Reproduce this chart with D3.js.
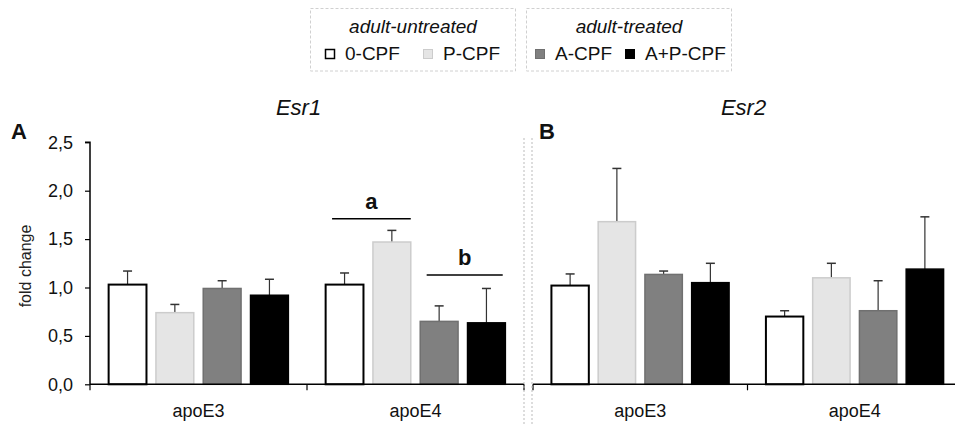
<!DOCTYPE html>
<html><head><meta charset="utf-8">
<script src="https://cdn.jsdelivr.net/npm/d3@7"></script>
<style>body{margin:0;background:#fff}svg{display:block;font-family:Arial,"Liberation Sans",sans-serif}</style>
</head><body>
<svg id="c" width="955" height="426"></svg>
<script>
const groups = ["apoE3", "apoE4"];
const series = ["0-CPF", "P-CPF", "A-CPF", "A+P-CPF"];
const yTicks = [0, 0.5, 1.0, 1.5, 2.0, 2.5];
const esr1Mean = [[1.03, 0.74, 0.99, 0.92], [1.03, 1.47, 0.65, 0.635]];
const esr1Err  = [[0.14, 0.085, 0.08, 0.165], [0.12, 0.12, 0.16, 0.355]];
const esr2Mean = [[1.02, 1.68, 1.135, 1.05], [0.70, 1.10, 0.76, 1.19]];
const esr2Err  = [[0.12, 0.55, 0.035, 0.20], [0.06, 0.15, 0.31, 0.54]];
const esr1Sig = [{group: "apoE4", from: "0-CPF", to: "P-CPF", y: 1.71, label: "a"},
                 {group: "apoE4", from: "A-CPF", to: "A+P-CPF", y: 1.13, label: "b"}];
const legendGroups = [{title: "adult-untreated", items: ["0-CPF", "P-CPF"]},
                      {title: "adult-treated", items: ["A-CPF", "A+P-CPF"]}];

const fills = {"0-CPF": "#ffffff", "P-CPF": "#e5e5e5", "A-CPF": "#808080", "A+P-CPF": "#000000"};
const strokes = {"0-CPF": "#000000", "P-CPF": "#cccccc", "A-CPF": "#707070", "A+P-CPF": "#000000"};
const strokeW = {"0-CPF": 2, "P-CPF": 1.5, "A-CPF": 1.5, "A+P-CPF": 1.5};

const svg = d3.select("#c");
const y = d3.scaleLinear().domain([0, 2.5]).range([384.3, 142.3]);

function panel(x0range, mean, err, title, titleX, letter, letterX, showY, sig) {
  const g = svg.append("g");
  const x0 = d3.scaleBand().domain(groups).range(x0range);
  const x1 = d3.scaleBand().domain(series).range([0, x0.bandwidth()]).paddingInner(0.2).paddingOuter(0.394);
  const data = [];
  groups.forEach((gr, gi) => series.forEach((s, si) => data.push({gr, s, v: mean[gi][si], e: err[gi][si]})));

  // error bars
  const eb = g.selectAll(".eb").data(data).join("g");
  eb.append("line")
    .attr("x1", d => x0(d.gr) + x1(d.s) + x1.bandwidth() / 2)
    .attr("x2", d => x0(d.gr) + x1(d.s) + x1.bandwidth() / 2)
    .attr("y1", d => y(d.v)).attr("y2", d => y(d.v + d.e))
    .attr("stroke", "#333").attr("stroke-width", 1.2);
  eb.append("line")
    .attr("x1", d => x0(d.gr) + x1(d.s) + x1.bandwidth() / 2 - 4.5)
    .attr("x2", d => x0(d.gr) + x1(d.s) + x1.bandwidth() / 2 + 4.5)
    .attr("y1", d => y(d.v + d.e)).attr("y2", d => y(d.v + d.e))
    .attr("stroke", "#333").attr("stroke-width", 1.5);

  // bars
  g.selectAll(".bar").data(data).join("rect")
    .attr("x", d => x0(d.gr) + x1(d.s))
    .attr("width", x1.bandwidth())
    .attr("y", d => y(d.v))
    .attr("height", d => y(0) - y(d.v))
    .attr("fill", d => fills[d.s]).attr("stroke", d => strokes[d.s])
    .attr("stroke-width", d => strokeW[d.s]);

  // x axis
  const ax = g.append("g");
  ax.append("line").attr("x1", x0range[0]).attr("x2", x0range[1])
    .attr("y1", y(0)).attr("y2", y(0)).attr("stroke", "#000").attr("stroke-width", 1.5);
  const bounds = groups.map(gr => x0(gr)).concat([x0range[1]]);
  ax.selectAll(".tk").data(bounds).join("line")
    .attr("x1", d => d).attr("x2", d => d).attr("y1", y(0)).attr("y2", y(0) + 6)
    .attr("stroke", "#000").attr("stroke-width", 1.2);
  ax.selectAll(".tl").data(groups).join("text")
    .attr("x", d => x0(d) + x0.bandwidth() / 2).attr("y", 417)
    .attr("text-anchor", "middle").attr("font-size", 18).attr("fill", "#111").text(d => d);

  if (showY) {
    const yA = g.append("g").attr("transform", `translate(${x0range[0]},0)`)
      .call(d3.axisLeft(y).tickValues(yTicks).tickSize(5).tickPadding(12)
        .tickFormat(d => d3.format(".1f")(d).replace(".", ",")));
    yA.select(".domain").attr("stroke-width", 1.5).attr("d", `M-5,${y(2.5)}H0V${y(0)}`);
    yA.selectAll(".tick line").attr("stroke-width", 1.2);
    yA.selectAll("text").attr("font-size", 18).attr("font-family", "Arial, 'Liberation Sans', sans-serif").attr("fill", "#111");
    g.append("text").attr("transform", `translate(31,266) rotate(-90)`)
      .attr("text-anchor", "middle").attr("font-size", 16).attr("fill", "#222").text("fold change");
  }

  g.append("text").attr("x", titleX).attr("y", 115).attr("text-anchor", "middle")
    .attr("font-size", 22).attr("font-style", "italic").attr("fill", "#111").text(title);
  g.append("text").attr("x", letterX).attr("y", 139).attr("font-size", 22).attr("font-weight", "bold")
    .attr("fill", "#111").text(letter);

  (sig || []).forEach(s => {
    const xa = x0(s.group) + x1(s.from) + x1.bandwidth() * 0.17;
    const xb = x0(s.group) + x1(s.to) + x1.bandwidth() * (s.label === "a" ? 1.0 : 0.93);
    g.append("line").attr("x1", xa).attr("x2", xb).attr("y1", y(s.y)).attr("y2", y(s.y))
      .attr("stroke", "#000").attr("stroke-width", 1.5);
    g.append("text").attr("x", (xa + xb) / 2).attr("y", y(s.y) - 10).attr("text-anchor", "middle")
      .attr("font-size", 22).attr("font-weight", "bold").attr("fill", "#111").text(s.label);
  });
}

panel([90, 524], esr1Mean, esr1Err, "Esr1", 298.5, "A", 11, true, esr1Sig);
panel([533, 962], esr2Mean, esr2Err, "Esr2", 743.5, "B", 539, false, []);

// dotted dividers
[524, 532].forEach(x => svg.append("line").attr("x1", x).attr("x2", x).attr("y1", 138).attr("y2", 426)
  .attr("stroke", "#bbb").attr("stroke-width", 1).attr("stroke-dasharray", "2,2"));

// legend
const boxX = [310.5, 526.5], boxW = 205;
const itemX = [[325, 423], [535, 625]];
legendGroups.forEach((lg, i) => {
  const lgG = svg.append("g");
  lgG.append("rect").attr("x", boxX[i]).attr("y", 8.5).attr("width", boxW).attr("height", 62.5)
    .attr("fill", "none").attr("stroke", "#d0d0d0").attr("stroke-dasharray", "3,2");
  lgG.append("text").attr("x", boxX[i] + 102.5).attr("y", 33).attr("text-anchor", "middle")
    .attr("font-size", 19).attr("font-style", "italic").attr("fill", "#111").text(lg.title);
  lg.items.forEach((it, j) => {
    lgG.append("rect").attr("x", itemX[i][j] + 0.5).attr("y", 49.5).attr("width", 9).attr("height", 9)
      .attr("fill", fills[it]).attr("stroke", strokes[it]).attr("stroke-width", it === "0-CPF" ? 1.5 : 1);
    lgG.append("text").attr("x", itemX[i][j] + 20).attr("y", 60).attr("font-size", 19).attr("fill", "#111").text(it);
  });
});
</script>
</body></html>
